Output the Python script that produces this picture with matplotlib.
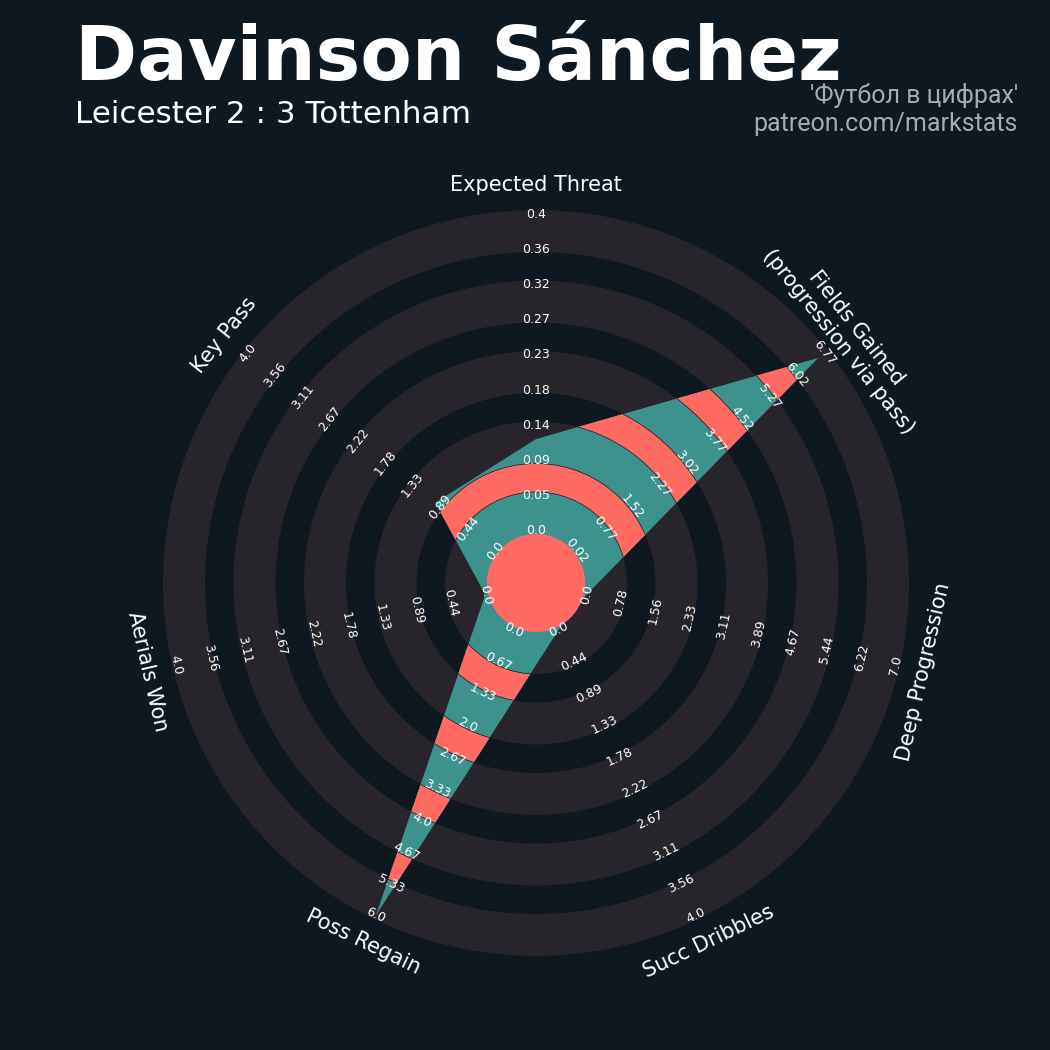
import numpy as np
import matplotlib
matplotlib.use("Agg")
import matplotlib.pyplot as plt
from matplotlib.patches import Polygon, Circle, Wedge

# ---------------- data ----------------
params = ["Expected Threat", "Fields Gained\n(progression via pass)", "Deep Progression",
          "Succ Dribbles", "Poss Regain", "Aerials Won", "Key Pass"]
values = [0.116, 6.6, 0.0, 0.0, 6.0, 0.0, 0.97]
range_min = [0.0, 0.02, 0.0, 0.0, 0.0, 0.0, 0.0]
range_max = [0.4, 6.77, 7.0, 4.0, 6.0, 4.0, 4.0]
range_labels = [
    ["0.0", "0.05", "0.09", "0.14", "0.18", "0.23", "0.27", "0.32", "0.36", "0.4"],
    ["0.02", "0.77", "1.52", "2.27", "3.02", "3.77", "4.52", "5.27", "6.02", "6.77"],
    ["0.0", "0.78", "1.56", "2.33", "3.11", "3.89", "4.67", "5.44", "6.22", "7.0"],
    ["0.0", "0.44", "0.89", "1.33", "1.78", "2.22", "2.67", "3.11", "3.56", "4.0"],
    ["0.0", "0.67", "1.33", "2.0", "2.67", "3.33", "4.0", "4.67", "5.33", "6.0"],
    ["0.0", "0.44", "0.89", "1.33", "1.78", "2.22", "2.67", "3.11", "3.56", "4.0"],
    ["0.0", "0.44", "0.89", "1.33", "1.78", "2.22", "2.67", "3.11", "3.56", "4.0"],
]
title = "Davinson Sánchez"
subtitle = "Leicester 2 : 3 Tottenham"
credit = ["'Футбол в цифрах'", "patreon.com/markstats"]

# ---------------- style ----------------
BG = "#0e1820"
PATCH = "#28242b"
TEAL = "#3d928d"
CORAL = "#ff6b63"
CREDIT = "#aaaaaa"

CX, CY = 536, 1050 - 583
CENTER_R = 49
RING_W = 42
RING_P = 70.5
N_RINGS = 5
R_MIN, R_MAX = 52, 369
R_LABEL = 398

fig = plt.figure(figsize=(10.5, 10.5), dpi=100, facecolor=BG)
ax = fig.add_axes([0, 0, 1, 1])
ax.set_facecolor(BG)
ax.set_xlim(0, 1050)
ax.set_ylim(0, 1050)
ax.set_aspect("equal")
ax.axis("off")

# background rings
ring_starts = [CENTER_R + k * RING_P for k in range(N_RINGS)]
for rs in ring_starts:
    ax.add_patch(Wedge((CX, CY), rs + RING_W, 0, 360, width=RING_W, fc=PATCH, ec="none", zorder=1))

n = len(params)
angles = np.deg2rad(90 - np.arange(n) * 360 / n)

def rotation(theta_rad):
    t = np.rad2deg(theta_rad) % 360
    if 0 <= t <= 180:
        return t - 90
    r = (t + 90) % 360
    return r if r <= 180 else r - 360

# radar polygon
vals = np.array(values)
lo = np.array(range_min)
hi = np.array(range_max)
rr = R_MIN + (vals - lo) / (hi - lo) * (R_MAX - R_MIN)
verts = np.column_stack([CX + rr * np.cos(angles), CY + rr * np.sin(angles)])
teal_poly = Polygon(verts, closed=True, fc=TEAL, ec="none", zorder=2)
ax.add_patch(teal_poly)

# coral in the gaps between background rings
for rs in ring_starts:
    inner = rs + RING_W
    outer = rs + RING_P
    w = Wedge((CX, CY), outer, 0, 360, width=outer - inner, fc="none", ec="none")
    ax.add_patch(w)
    w.set_visible(False)
    cp = Polygon(verts, closed=True, fc=CORAL, ec="none", zorder=3)
    ax.add_patch(cp)
    cp.set_clip_path(w)

# thin boundary lines inside the polygon
bounds = []
for rs in ring_starts:
    bounds += [rs + RING_W, rs + RING_P]
for b in bounds:
    c = Circle((CX, CY), b, fc="none", ec=BG, lw=0.5, zorder=4)
    ax.add_patch(c)
    c.set_clip_path(teal_poly)

# center circle
ax.add_patch(Circle((CX, CY), CENTER_R, fc=CORAL, ec="none", zorder=5))

# range labels
label_r = np.linspace(R_MIN, R_MAX, 10)
for i in range(n):
    rot = rotation(angles[i])
    for r, lab in zip(label_r, range_labels[i]):
        ax.text(CX + r * np.cos(angles[i]), CY + r * np.sin(angles[i]), lab,
                fontsize=9, color="white", ha="center", va="center",
                rotation=rot, rotation_mode="anchor", zorder=6, family="DejaVu Sans")

# parameter labels
for i in range(n):
    ax.text(CX + R_LABEL * np.cos(angles[i]), CY + R_LABEL * np.sin(angles[i]), params[i],
            fontsize=15, color="white", ha="center", va="center", multialignment="center",
            rotation=rotation(angles[i]), rotation_mode="anchor", zorder=6, family="DejaVu Sans")

# titles
fig.text(75 / 1050, 1 - 80 / 1050, title, fontsize=54, fontweight="bold", color="white",
         ha="left", va="baseline", family="DejaVu Sans")
fig.text(75 / 1050, 1 - 123 / 1050, subtitle, fontsize=22.4, color="white",
         ha="left", va="baseline", family="DejaVu Sans")
fig.text(1018 / 1050, 1 - 103 / 1050, credit[0], fontsize=18, color=CREDIT,
         ha="right", va="baseline", family=["Roboto", "DejaVu Sans"])
fig.text(1018 / 1050, 1 - 131 / 1050, credit[1], fontsize=18, color=CREDIT,
         ha="right", va="baseline", family=["Roboto", "DejaVu Sans"])

fig.savefig("out.png", dpi=100, facecolor=BG)
